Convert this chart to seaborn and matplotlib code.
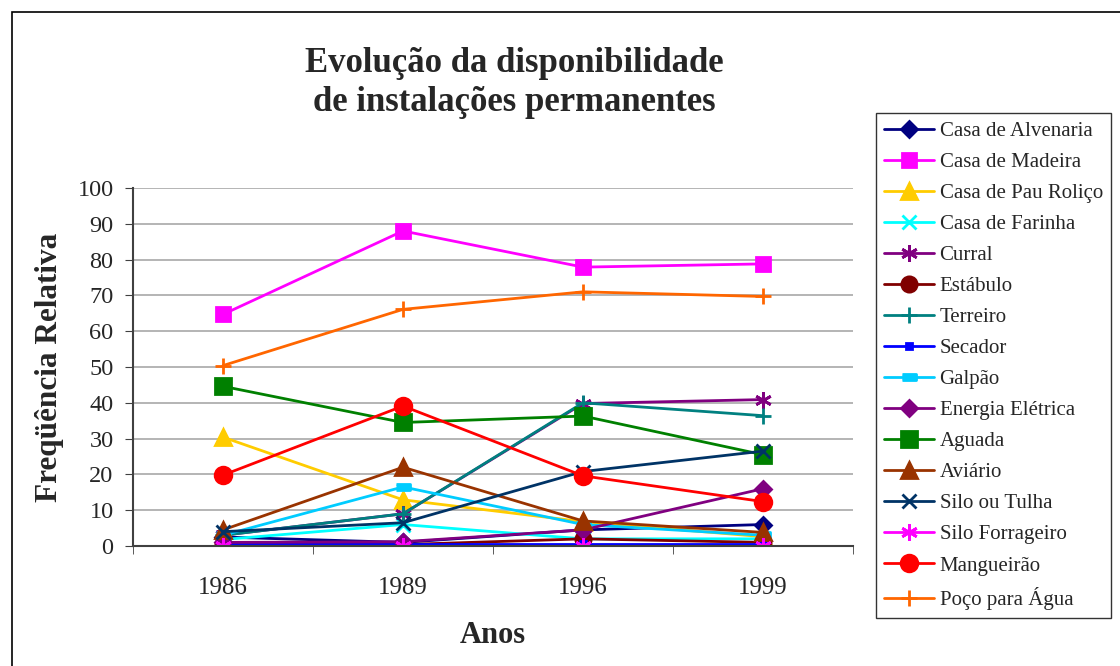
import numpy as np
import pandas as pd
import matplotlib
matplotlib.use('Agg')
import matplotlib.pyplot as plt
import seaborn as sns
from matplotlib.patches import Rectangle

# dados (frequência relativa, %)
anos = ['1986', '1989', '1996', '1999']
casa_alvenaria = [2.5, 1.0, 4.5, 6.0]
casa_madeira = [64.7, 88.0, 77.9, 78.8]
casa_pau_rolico = [30.4, 12.9, 6.8, 2.6]
casa_farinha = [1.8, 6.0, 2.0, 2.0]
curral = [3.0, 9.0, 39.8, 40.9]
estabulo = [0.5, 0.4, 2.0, 1.0]
terreiro = [3.0, 9.0, 40.0, 36.4]
secador = [0.5, 0.5, 0.5, 0.5]
galpao = [3.0, 16.5, 6.0, 3.0]
energia_eletrica = [1.0, 1.2, 4.5, 16.0]
aguada = [44.6, 34.5, 36.3, 25.5]
aviario = [4.5, 22.0, 7.0, 3.8]
silo_tulha = [4.0, 6.5, 20.8, 26.5]
silo_forrageiro = [0.0, 0.0, 0.0, 0.0]
mangueirao = [19.8, 39.1, 19.6, 12.4]
poco_agua = [50.4, 66.1, 71.0, 69.7]

asterisco = (6, 2, 0)
traco = [(-2.2, -0.8), (2.2, -0.8), (2.2, 0.8), (-2.2, 0.8)]

# nome, valores, cor, marcador, tamanho
series = [
    ('Casa de Alvenaria', casa_alvenaria, '#000080', 'D', 8),
    ('Casa de Madeira', casa_madeira, '#FF00FF', 's', 10),
    ('Casa de Pau Roliço', casa_pau_rolico, '#FFCC00', '^', 11),
    ('Casa de Farinha', casa_farinha, '#00FFFF', 'x', 10),
    ('Curral', curral, '#800080', asterisco, 12),
    ('Estábulo', estabulo, '#800000', 'o', 11),
    ('Terreiro', terreiro, '#008080', '+', 12),
    ('Secador', secador, '#0000FF', 's', 5),
    ('Galpão', galpao, '#00CCFF', traco, 10),
    ('Energia Elétrica', energia_eletrica, '#800080', 'D', 8),
    ('Aguada', aguada, '#008000', 's', 11),
    ('Aviário', aviario, '#993300', '^', 11),
    ('Silo ou Tulha', silo_tulha, '#003366', 'x', 10),
    ('Silo Forrageiro', silo_forrageiro, '#FF00FF', asterisco, 12),
    ('Mangueirão', mangueirao, '#FF0000', 'o', 12),
    ('Poço para Água', poco_agua, '#FF6600', '+', 12),
]

sns.set_style('white')
plt.rcParams['font.family'] = ['Liberation Serif', 'DejaVu Serif']

fig = plt.figure(figsize=(11.2, 6.66), dpi=100)
ax = fig.add_axes([133 / 1120, 1 - 546 / 666, 720 / 1120, 358 / 666])

pos = np.arange(len(anos))
for nome, valores, cor, marcador, tam in series:
    sns.lineplot(x=pos, y=valores, ax=ax, color=cor, marker=marcador,
                 markersize=tam, markeredgecolor=cor, markeredgewidth=2,
                 linewidth=2, label=nome)

ax.set_xlim(-0.5, 3.5)
ax.set_ylim(0, 100)
ax.set_yticks(np.arange(0, 101, 10))
ax.set_xticks(pos)
ax.set_xticklabels(anos)
ax.set_xticks(np.arange(-0.5, 3.6, 1), minor=True)
ax.tick_params(axis='x', which='major', length=0, labelsize=18, pad=22)
ax.tick_params(axis='x', which='minor', length=6, direction='out', color='#404040', bottom=True)
ax.tick_params(axis='y', length=6, direction='out', labelsize=17.5, left=True,
               color='#404040', pad=8)
ax.yaxis.grid(True, color='#a8a8a8', linewidth=1.2)
ax.set_axisbelow(True)
for s in ['top', 'right']:
    ax.spines[s].set_visible(False)
for s in ['left', 'bottom']:
    ax.spines[s].set_color('#404040')
    ax.spines[s].set_linewidth(1.5)

ax.set_xlabel('Anos', fontsize=22, fontweight='bold', labelpad=16)
ax.set_ylabel('Freqüência Relativa', fontsize=22.5, fontweight='bold', labelpad=10)

fig.text(0.459, 0.875, 'Evolução da disponibilidade\nde instalações permanentes',
         ha='center', va='center', fontsize=25, fontweight='bold', linespacing=1.25)

leg = ax.legend(loc='upper left', bbox_to_anchor=(876 / 1120, 1 - 113 / 666),
                bbox_transform=fig.transFigure, fontsize=15, frameon=True,
                fancybox=False, edgecolor='black', handlelength=2.4,
                labelspacing=0.55, borderpad=0.4, handletextpad=0.25,
                borderaxespad=0)
leg.get_frame().set_linewidth(1.0)

fig.patches.append(Rectangle((12 / 1120, -0.1), 1.2, 1 - 12 / 666 + 0.1,
                             transform=fig.transFigure, fill=False,
                             edgecolor='black', linewidth=1.2))

fig.savefig('out.png', dpi=100)
